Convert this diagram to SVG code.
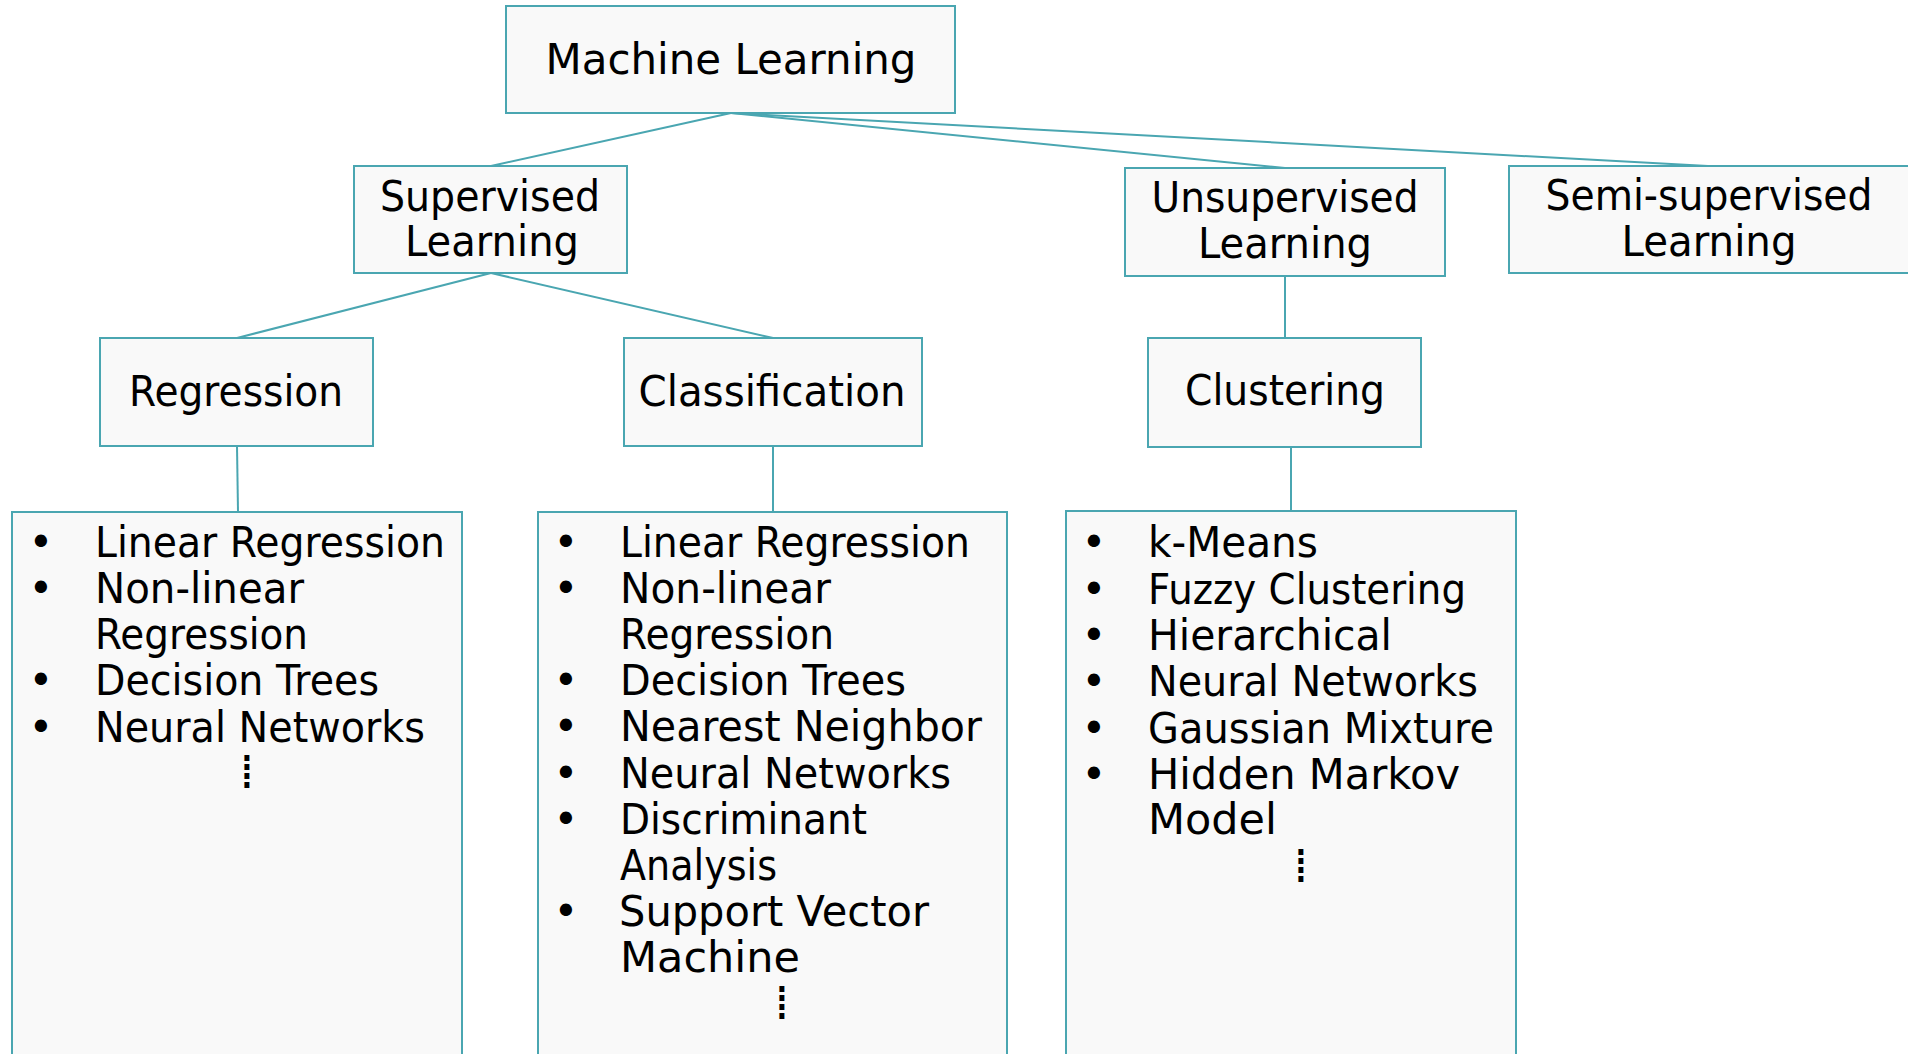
<svg xmlns="http://www.w3.org/2000/svg" width="1908" height="1054" viewBox="0 0 1908 1054">
  <style>
    .box { fill: #f9f9f9; stroke: #4aa6b1; stroke-width: 2; }
    .link { stroke: #4aa6b1; stroke-width: 2; fill: none; }
    .lbl { font-family: "DejaVu Sans", "Liberation Sans", sans-serif; font-size: 42px; fill: #000; }
    .mid { text-anchor: middle; }
    .dots { font-family: "DejaVu Sans", "Liberation Sans", sans-serif; font-size: 48px; fill: #000; text-anchor: middle; }
  </style>
  <rect width="1908" height="1054" fill="#ffffff"/>

  <!-- tree connectors -->
  <g id="connectors">
    <line class="link" x1="731" y1="113" x2="491" y2="166"/>
    <line class="link" x1="731" y1="113" x2="1285" y2="168"/>
    <line class="link" x1="731" y1="113" x2="1708" y2="166"/>
    <line class="link" x1="491" y1="273" x2="237" y2="338"/>
    <line class="link" x1="491" y1="273" x2="773" y2="338"/>
    <line class="link" x1="1285" y1="276" x2="1285" y2="338"/>
    <line class="link" x1="237" y1="446" x2="238" y2="512"/>
    <line class="link" x1="773" y1="446" x2="773" y2="512"/>
    <line class="link" x1="1291" y1="447" x2="1291" y2="511"/>
  </g>

  <g id="machine-learning">
    <rect class="box" x="506" y="6" width="449" height="107"/>
    <text class="lbl mid" x="731" y="74" textLength="371" lengthAdjust="spacingAndGlyphs">Machine Learning</text>
  </g>

  <g id="supervised">
    <rect class="box" x="354" y="166" width="273" height="107"/>
    <text class="lbl mid" x="490" y="211" textLength="220" lengthAdjust="spacingAndGlyphs">Supervised</text>
    <text class="lbl mid" x="492" y="256" textLength="174" lengthAdjust="spacingAndGlyphs">Learning</text>
  </g>

  <g id="unsupervised">
    <rect class="box" x="1125" y="168" width="320" height="108"/>
    <text class="lbl mid" x="1285" y="212" textLength="267" lengthAdjust="spacingAndGlyphs">Unsupervised</text>
    <text class="lbl mid" x="1285" y="258" textLength="174" lengthAdjust="spacingAndGlyphs">Learning</text>
  </g>

  <g id="semi-supervised">
    <rect class="box" x="1509" y="166" width="420" height="107"/>
    <text class="lbl mid" x="1709" y="210" textLength="327" lengthAdjust="spacingAndGlyphs">Semi-supervised</text>
    <text class="lbl mid" x="1709" y="256" textLength="175" lengthAdjust="spacingAndGlyphs">Learning</text>
  </g>

  <g id="regression">
    <rect class="box" x="100" y="338" width="273" height="108"/>
    <text class="lbl mid" x="236" y="406" textLength="214" lengthAdjust="spacingAndGlyphs">Regression</text>
  </g>

  <g id="classification">
    <rect class="box" x="624" y="338" width="298" height="108"/>
    <text class="lbl mid" x="772" y="406" textLength="267" lengthAdjust="spacingAndGlyphs">Classification</text>
  </g>

  <g id="clustering">
    <rect class="box" x="1148" y="338" width="273" height="109"/>
    <text class="lbl mid" x="1285" y="405" textLength="200" lengthAdjust="spacingAndGlyphs">Clustering</text>
  </g>

  <!-- regression methods -->
  <g id="regression-methods">
    <rect class="box" x="12" y="512" width="450" height="560"/>
    <text class="lbl mid" x="41" y="557">•</text>
    <text class="lbl" x="95" y="557" textLength="350" lengthAdjust="spacingAndGlyphs">Linear Regression</text>
    <text class="lbl mid" x="41" y="603">•</text>
    <text class="lbl" x="95" y="603" textLength="209" lengthAdjust="spacingAndGlyphs">Non-linear</text>
    <text class="lbl" x="95" y="649" textLength="213" lengthAdjust="spacingAndGlyphs">Regression</text>
    <text class="lbl mid" x="41" y="695">•</text>
    <text class="lbl" x="95" y="695" textLength="284" lengthAdjust="spacingAndGlyphs">Decision Trees</text>
    <text class="lbl mid" x="41" y="742">•</text>
    <text class="lbl" x="95" y="742" textLength="330" lengthAdjust="spacingAndGlyphs">Neural Networks</text>
    <text class="dots" x="247" y="788">⁞</text>
  </g>

  <!-- classification methods -->
  <g id="classification-methods">
    <rect class="box" x="538" y="512" width="469" height="560"/>
    <text class="lbl mid" x="566" y="557">•</text>
    <text class="lbl" x="620" y="557" textLength="350" lengthAdjust="spacingAndGlyphs">Linear Regression</text>
    <text class="lbl mid" x="566" y="603">•</text>
    <text class="lbl" x="620" y="603" textLength="211" lengthAdjust="spacingAndGlyphs">Non-linear</text>
    <text class="lbl" x="620" y="649" textLength="214" lengthAdjust="spacingAndGlyphs">Regression</text>
    <text class="lbl mid" x="566" y="695">•</text>
    <text class="lbl" x="620" y="695" textLength="286" lengthAdjust="spacingAndGlyphs">Decision Trees</text>
    <text class="lbl mid" x="566" y="741">•</text>
    <text class="lbl" x="620" y="741" textLength="362" lengthAdjust="spacingAndGlyphs">Nearest Neighbor</text>
    <text class="lbl mid" x="566" y="788">•</text>
    <text class="lbl" x="620" y="788" textLength="331" lengthAdjust="spacingAndGlyphs">Neural Networks</text>
    <text class="lbl mid" x="566" y="834">•</text>
    <text class="lbl" x="620" y="834" textLength="247" lengthAdjust="spacingAndGlyphs">Discriminant</text>
    <text class="lbl" x="620" y="880" textLength="157" lengthAdjust="spacingAndGlyphs">Analysis</text>
    <text class="lbl mid" x="566" y="926">•</text>
    <text class="lbl" x="619" y="926" textLength="310" lengthAdjust="spacingAndGlyphs">Support Vector</text>
    <text class="lbl" x="620" y="972" textLength="180" lengthAdjust="spacingAndGlyphs">Machine</text>
    <text class="dots" x="782" y="1019">⁞</text>
  </g>

  <!-- clustering methods -->
  <g id="clustering-methods">
    <rect class="box" x="1066" y="511" width="450" height="561"/>
    <text class="lbl mid" x="1094" y="557">•</text>
    <text class="lbl" x="1148" y="557" textLength="170" lengthAdjust="spacingAndGlyphs">k-Means</text>
    <text class="lbl mid" x="1094" y="604">•</text>
    <text class="lbl" x="1148" y="604" textLength="318" lengthAdjust="spacingAndGlyphs">Fuzzy Clustering</text>
    <text class="lbl mid" x="1094" y="650">•</text>
    <text class="lbl" x="1148" y="650" textLength="244" lengthAdjust="spacingAndGlyphs">Hierarchical</text>
    <text class="lbl mid" x="1094" y="696">•</text>
    <text class="lbl" x="1148" y="696" textLength="330" lengthAdjust="spacingAndGlyphs">Neural Networks</text>
    <text class="lbl mid" x="1094" y="743">•</text>
    <text class="lbl" x="1148" y="743" textLength="346" lengthAdjust="spacingAndGlyphs">Gaussian Mixture</text>
    <text class="lbl mid" x="1094" y="789">•</text>
    <text class="lbl" x="1148" y="789" textLength="312" lengthAdjust="spacingAndGlyphs">Hidden Markov</text>
    <text class="lbl" x="1148" y="834" textLength="129" lengthAdjust="spacingAndGlyphs">Model</text>
    <text class="dots" x="1301" y="882">⁞</text>
  </g>
</svg>
